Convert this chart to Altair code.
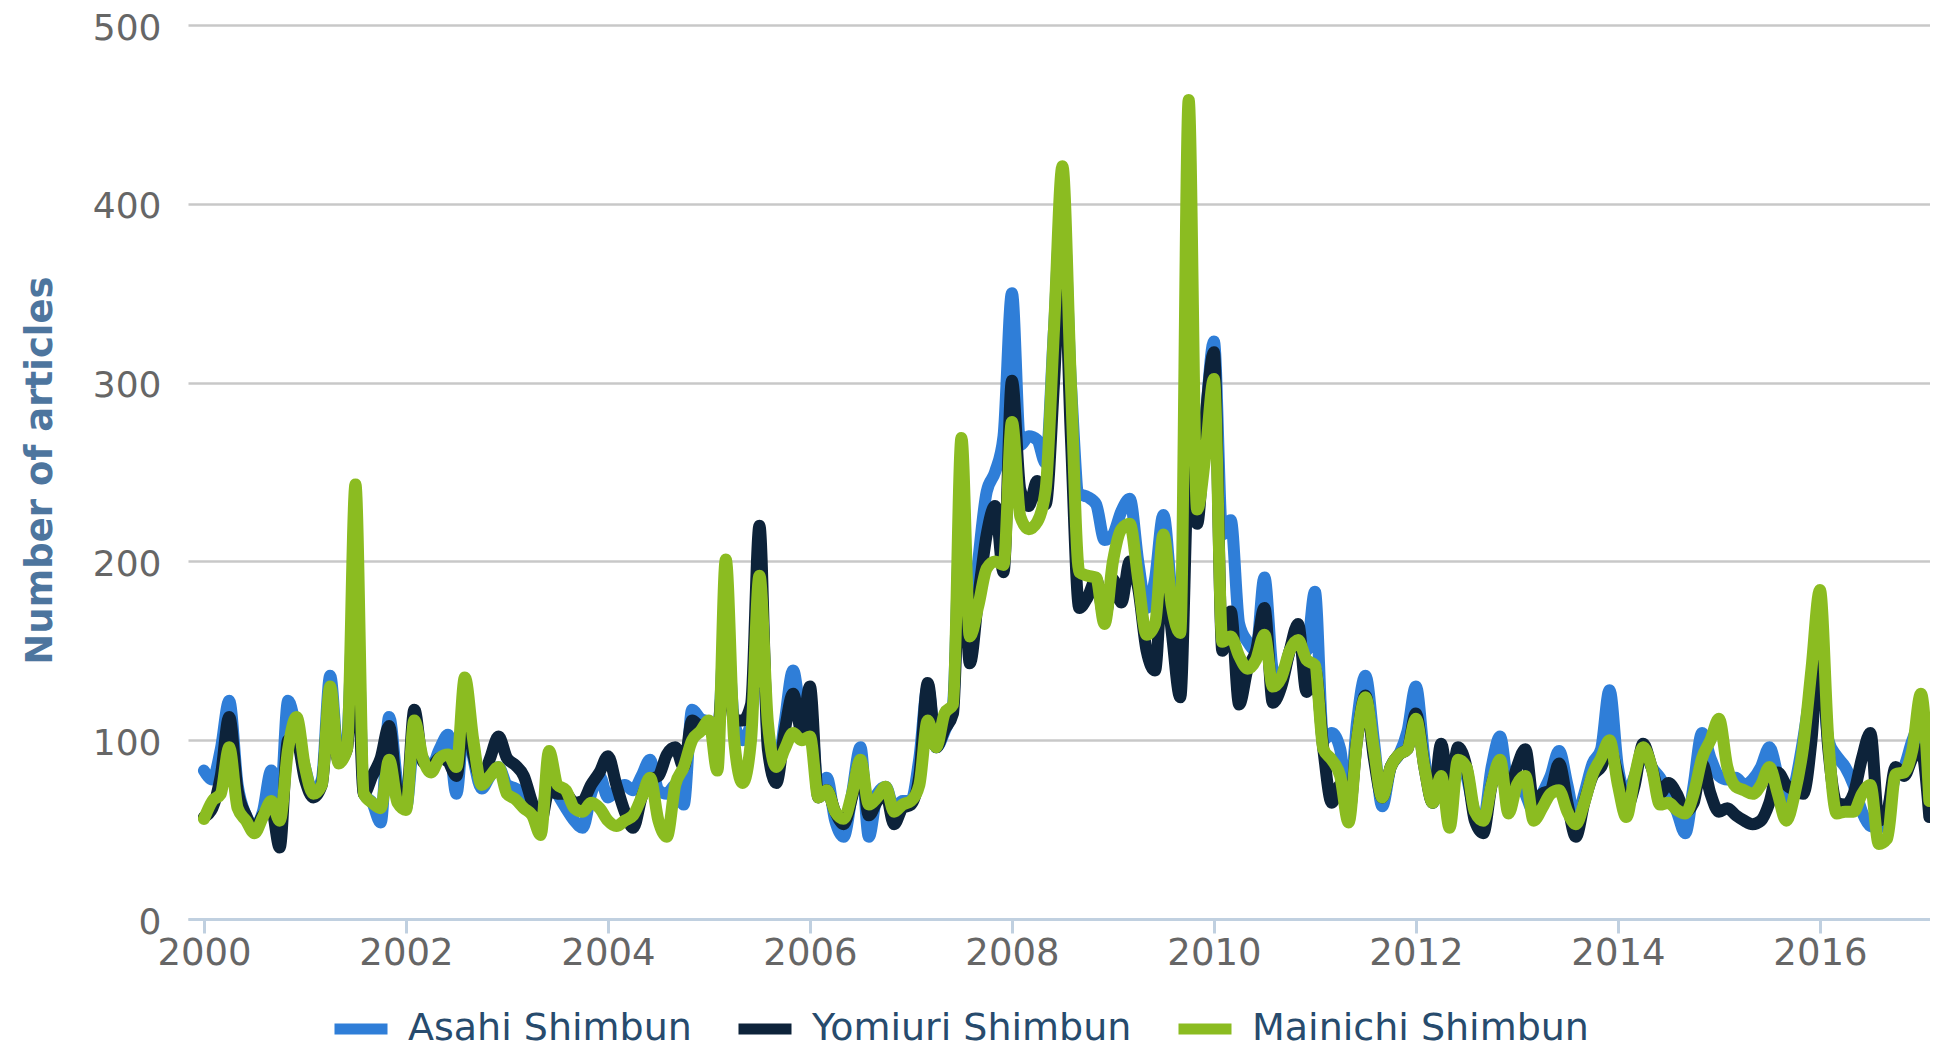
import altair as alt
import pandas as pd

SERIES = ["Asahi Shimbun", "Yomiuri Shimbun", "Mainichi Shimbun"]
COLORS = ["#2f7ed8", "#0d233a", "#8bbc21"]
START_YEAR = 2000  # monthly values, first month = January 2000

asahi = [
    83, 78, 95, 122, 75, 58, 52, 60, 83, 62, 122, 105,      # 2000
    85, 70, 78, 136, 88, 100, 200, 70, 65, 54, 113, 75,     # 2001
    62, 100, 90, 85, 95, 103, 70, 115, 90, 73, 80, 85,      # 2002
    75, 73, 70, 60, 55, 80, 70, 62, 55, 51, 70, 80,         # 2003
    68, 72, 75, 72, 80, 89, 72, 70, 75, 64, 117, 112,       # 2004
    110, 100, 170, 110, 100, 110, 200, 100, 80, 110, 139, 115,  # 2005
    120, 70, 79, 55, 46, 70, 96, 46, 70, 74, 62, 66,        # 2006
    66, 90, 130, 96, 105, 120, 240, 150, 200, 239, 250, 270,    # 2007
    350, 265, 270, 268, 255, 330, 405, 300, 238, 236, 232, 212, # 2008
    215, 228, 235, 200, 174, 190, 226, 180, 150, 260, 235, 280, # 2009
    323, 215, 223, 165, 155, 150, 191, 140, 135, 150, 160, 150, # 2010
    183, 100, 104, 95, 60, 110, 136, 100, 63, 85, 92, 105,  # 2011
    130, 90, 65, 80, 60, 90, 80, 60, 55, 85, 102, 75,       # 2012
    80, 70, 60, 70, 80, 94, 75, 55, 70, 87, 95, 128,        # 2013
    85, 70, 80, 95, 85, 79, 70, 60, 48, 75, 104, 90,        # 2014
    80, 78, 79, 75, 78, 85, 96, 80, 65, 75, 100, 130,       # 2015
    150, 100, 91, 85, 75, 60, 52, 51, 60, 80, 85, 100,      # 2016
    110, 70,                                                # 2017
]

yomiuri = [
    57, 62, 80, 113, 72, 58, 50, 58, 62, 40, 100, 100,      # 2000
    78, 68, 75, 125, 88, 95, 170, 70, 80, 90, 108, 70,      # 2001
    65, 117, 88, 85, 90, 88, 80, 118, 92, 78, 90, 102,      # 2002
    90, 86, 80, 65, 54, 72, 70, 70, 65, 66, 75, 82,         # 2003
    91, 75, 60, 51, 68, 78, 80, 92, 96, 85, 111, 108,       # 2004
    110, 105, 150, 111, 111, 120, 220, 95, 76, 105, 126, 105,   # 2005
    130, 68, 72, 60, 53, 68, 88, 58, 66, 70, 53, 62,        # 2006
    64, 80, 132, 96, 106, 115, 225, 143, 180, 215, 231, 194,    # 2007
    301, 240, 231, 245, 232, 300, 387, 270, 174, 180, 190, 168, # 2008
    190, 177, 200, 185, 150, 139, 200, 160, 124, 250, 221, 280, # 2009
    317, 150, 172, 120, 140, 150, 174, 121, 130, 150, 165, 127, # 2010
    140, 95, 65, 75, 58, 100, 125, 90, 68, 85, 92, 95,      # 2011
    115, 85, 65, 98, 70, 96, 85, 55, 48, 75, 85, 70,        # 2012
    85, 95, 65, 70, 72, 87, 65, 46, 65, 80, 85, 96,         # 2013
    80, 62, 75, 98, 85, 70, 76, 70, 60, 65, 87, 70,         # 2014
    60, 62, 58, 55, 53, 55, 65, 82, 75, 72, 70, 100,        # 2015
    160, 95, 65, 64, 70, 90, 104, 55, 60, 85, 80, 90,       # 2016
    95, 57,                                                 # 2017
]

mainichi = [
    56, 66, 70, 96, 62, 55, 48, 57, 66, 55, 95, 113,        # 2000
    85, 70, 75, 130, 87, 95, 243, 70, 65, 62, 89, 65,       # 2001
    61, 111, 90, 82, 90, 92, 85, 135, 100, 75, 80, 85,      # 2002
    70, 67, 62, 58, 47, 94, 75, 72, 62, 60, 65, 62,         # 2003
    55, 52, 55, 58, 68, 79, 55, 46, 75, 85, 100, 105,       # 2004
    111, 83, 201, 100, 76, 100, 192, 110, 85, 95, 104, 100, # 2005
    102, 68, 72, 60, 56, 70, 89, 64, 68, 74, 60, 64,        # 2006
    66, 75, 111, 96, 115, 120, 269, 158, 175, 196, 200, 198,    # 2007
    278, 225, 218, 222, 240, 330, 421, 300, 194, 192, 191, 165, # 2008
    200, 218, 221, 190, 159, 165, 215, 175, 160, 458, 229, 260, # 2009
    302, 155, 158, 147, 140, 145, 159, 130, 135, 150, 156, 145, # 2010
    142, 95, 89, 80, 54, 100, 124, 95, 68, 85, 92, 95,      # 2011
    112, 85, 65, 80, 51, 89, 85, 60, 55, 75, 89, 59,        # 2012
    75, 80, 55, 62, 70, 72, 60, 53, 65, 81, 90, 100,        # 2013
    75, 57, 80, 96, 85, 64, 65, 61, 59, 70, 90, 100,        # 2014
    112, 85, 74, 72, 70, 75, 85, 70, 55, 70, 96, 140,       # 2015
    184, 100, 59, 60, 60, 70, 75, 42, 45, 81, 82, 95,       # 2016
    126, 66,                                                # 2017
]

X_TICKS = [2000, 2002, 2004, 2006, 2008, 2010, 2012, 2014, 2016]
Y_TICKS = [0, 100, 200, 300, 400, 500]
Y_TITLE = "Number of articles"

rows = []
for name, vals in zip(SERIES, [asahi, yomiuri, mainichi]):
    for i, v in enumerate(vals):
        rows.append({"t": START_YEAR + i / 12.0, "articles": v, "paper": name})
df = pd.DataFrame(rows)

FONT = "DejaVu Sans"

base = alt.Chart(df).mark_line(
    strokeWidth=12, interpolate="monotone", strokeCap="round", strokeJoin="round"
).encode(
    x=alt.X(
        "t:Q",
        title=None,
        scale=alt.Scale(domain=[1999.842, 2017.09], nice=False, zero=False),
        axis=alt.Axis(
            values=X_TICKS, format="d", grid=False,
            domainColor="#C0D0E0", domainWidth=3,
            tickColor="#C0D0E0", tickWidth=3, tickSize=14,
            labelFontSize=37, labelColor="#666666", labelPadding=2,
            labelFlush=False, labelOverlap=False, labelFont=FONT,
        ),
    ),
    y=alt.Y(
        "articles:Q",
        title=Y_TITLE,
        scale=alt.Scale(domain=[0, 500], nice=False),
        axis=alt.Axis(
            values=Y_TICKS, grid=True, gridColor="#C8C8C8", gridWidth=2.5,
            domain=False, ticks=False, tickSize=0,
            labelFontSize=36, labelColor="#666666", labelPadding=27, labelFont=FONT,
            labelOffset=3,
            titleFontSize=37, titleColor="#4d759e", titleFontWeight="bold", titleFont=FONT,
            titleAngle=270, titleX=-148, titleY=445, titleAlign="center", titleBaseline="middle",
        ),
    ),
    color=alt.Color(
        "paper:N",
        scale=alt.Scale(domain=SERIES, range=COLORS),
        legend=alt.Legend(
            title=None, orient="none", legendX=141, legendY=972, direction="horizontal",
            symbolType="stroke", symbolSize=2809, symbolStrokeWidth=11,
            labelFontSize=38, labelColor="#274b6d", labelFont=FONT, labelLimit=0,
            labelOffset=15, columnPadding=24, padding=0,
        ),
    ),
)

layers = [base.transform_filter(alt.datum.paper == s) for s in SERIES]

chart = alt.layer(*layers).properties(
    width=1742,
    height=894,
    autosize=alt.AutoSizeParams(type="none"),
    padding={"left": 180, "top": 17, "right": 0, "bottom": 132},
    background="white",
).configure(font=FONT, view=alt.ViewConfig(stroke=None))

chart.save("out.html", embed_options={"renderer": "svg", "actions": False})
